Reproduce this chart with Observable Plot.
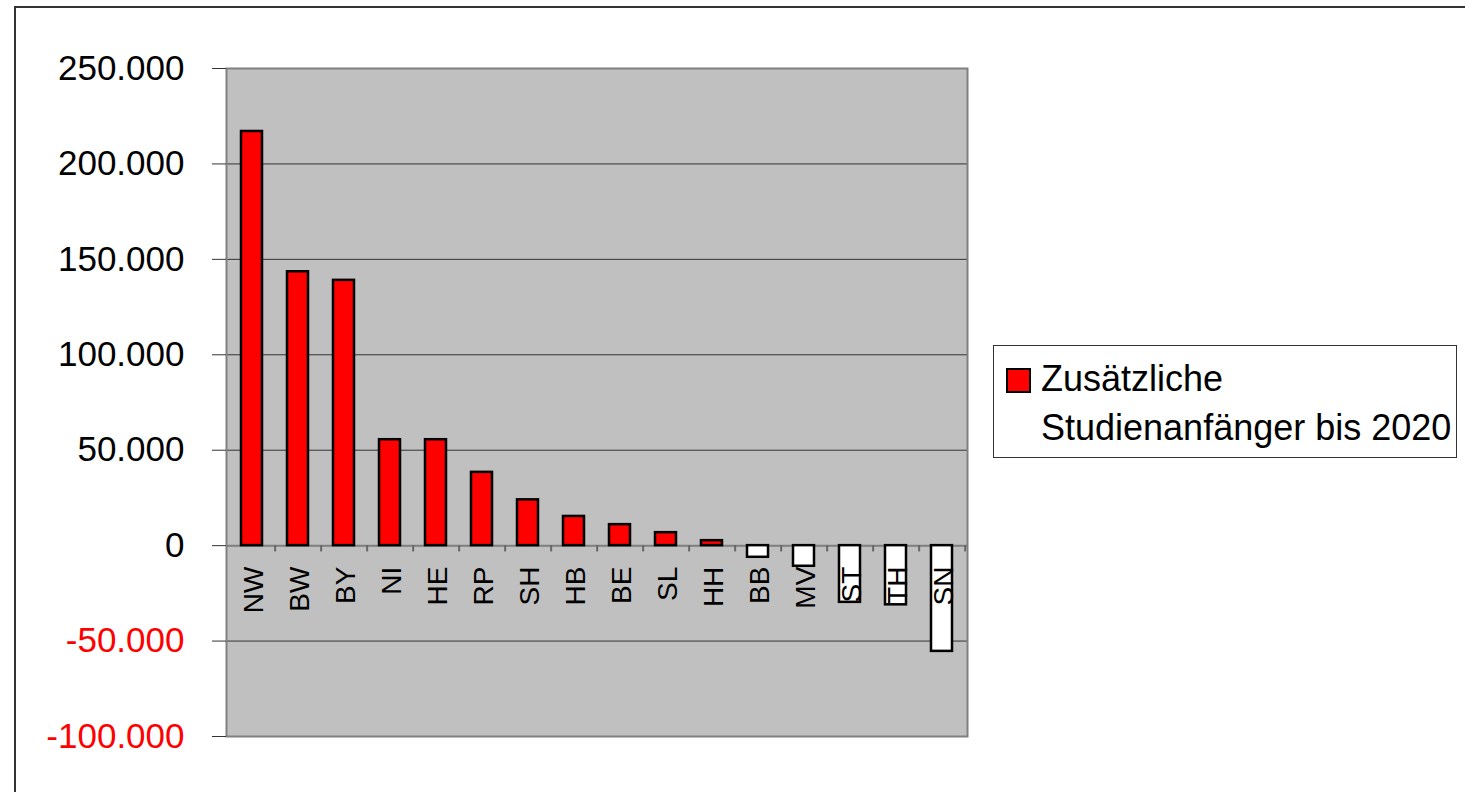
<!DOCTYPE html>
<html>
<head>
<meta charset="utf-8">
<script src="https://cdn.jsdelivr.net/npm/d3@7"></script>
<script src="https://cdn.jsdelivr.net/npm/@observablehq/plot@0.6"></script>
<style>
  html, body { margin: 0; padding: 0; background: #fff; overflow: hidden; }
  #wrap { position: relative; width: 1465px; height: 792px; font-family: "Liberation Sans", Arial, sans-serif; }
  #outer { position: absolute; left: 14px; top: 6px; width: 1600px; height: 900px; border: 2px solid #333; box-sizing: border-box; }
  #chart { position: absolute; left: 0; top: 0; }
  #legend { position: absolute; left: 993px; top: 345px; width: 464px; height: 113px; border: 1px solid #333; box-sizing: border-box; background: #fff; }
  #legend .sw { position: absolute; left: 12px; top: 22px; width: 25px; height: 25px; background: #ff0000; border: 2px solid #000; box-sizing: border-box; }
  #legend .tx { position: absolute; left: 47px; top: 8px; font-size: 36px; line-height: 49px; color: #000; white-space: nowrap; }
</style>
</head>
<body>
<div id="wrap">
  <div id="outer"></div>
  <div id="chart"></div>
  <div id="legend"><div class="sw"></div><div class="tx"></div></div>
</div>
<script>
const states = ["NW","BW","BY","NI","HE","RP","SH","HB","BE","SL","HH","BB","MV","ST","TH","SN"];
const values = [217000,143500,139000,55500,55500,38400,24000,15300,11000,6800,2600,-6100,-10800,-29700,-31000,-55400];
const yTicks = [-100000,-50000,0,50000,100000,150000,200000,250000];
const legendLines = ["Zusätzliche", "Studienanfänger bis 2020"];

const data = states.map((s, i) => ({state: s, value: values[i]}));
const de = d3.formatLocale({decimal: ",", thousands: ".", grouping: [3], currency: ["", "€"], minus: "-"});
const fmt = de.format(",");

const chart = Plot.plot({
  width: 1465,
  height: 792,
  marginLeft: 226,
  marginRight: 498,
  marginTop: 68,
  marginBottom: 56,
  style: {fontFamily: "Liberation Sans, Arial, sans-serif", background: "transparent", overflow: "visible"},
  x: {domain: states, paddingInner: 0.55, paddingOuter: 0.275, axis: null},
  y: {domain: [-100000, 250000], axis: null},
  marks: [
    Plot.frame({fill: "#c0c0c0", stroke: "none"}),
    Plot.gridY(yTicks, {stroke: "#333", strokeOpacity: 1, strokeWidth: 1}),
    Plot.frame({stroke: "#808080", strokeWidth: 2}),
    Plot.axisY(yTicks, {tickSize: 14, tickFormat: () => "", label: null, stroke: "#333"}),
    Plot.text(yTicks, {y: d => d, frameAnchor: "left", dx: -42, textAnchor: "end", text: d => fmt(d), fill: d => d < 0 ? "red" : "black", fontSize: 35}),
    Plot.ruleY([0], {stroke: "#808080", strokeWidth: 2}),
    Plot.ruleX(states, {x: d => d, y1: 0, y2: -3300, dx: 23.15, stroke: "#666", strokeWidth: 2}),
    Plot.barY(data, {x: "state", y: "value", fill: d => d.value > 0 ? "#ff0000" : "#ffffff", stroke: "#000", strokeWidth: 2.5}),
    Plot.text(states, {x: d => d, y: 0, text: d => d, rotate: -90, textAnchor: "end", dy: 21, dx: 2, fontSize: 28, fill: "#000"})
  ]
});
document.getElementById("chart").appendChild(chart);
document.querySelector("#legend .tx").innerHTML = legendLines.join("<br>");
</script>
</body>
</html>
